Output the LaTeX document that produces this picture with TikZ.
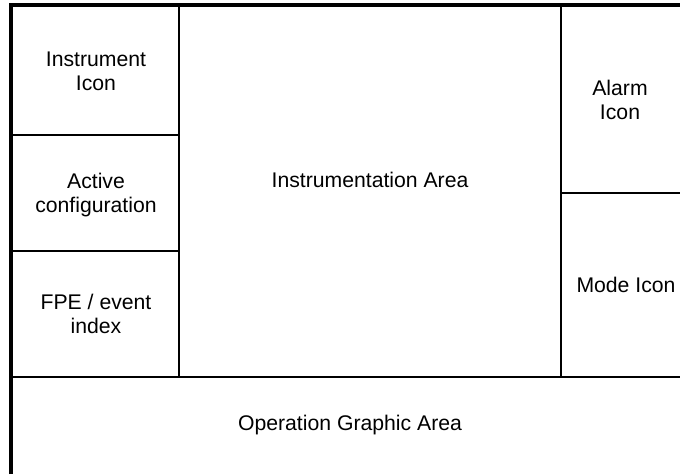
\documentclass[tikz,border=0pt]{standalone}
\usepackage{fontspec}
\setmainfont{Liberation Sans}
\begin{document}
\begin{tikzpicture}[x=1pt,y=-1pt,
  thickframe/.style={line width=3.8pt},
  thinline/.style={line width=2.4pt},
  label/.style={inner sep=0pt, align=center, font=\fontsize{21.2}{24.5}\selectfont}]
\useasboundingbox (0,0) rectangle (680,474);
% outer frame (left and top)
\draw[thickframe] (10.8,474) -- (10.8,5.2) -- (680,5.2);
% partitions
\draw[thinline] (178.8,5.2) -- (178.8,376.7);
\draw[thinline] (561.2,5.2) -- (561.2,376.7);
\draw[thinline] (10.8,135) -- (178.8,135);
\draw[thinline] (10.8,250.7) -- (178.8,250.7);
\draw[thinline] (561.2,193) -- (680,193);
\draw[thinline] (10.8,376.7) -- (680,376.7);
% labels
\node[label] (instr) at (96,71.5) {Instrument\\Icon};
\node[label] (active) at (96,195) {Active\\configuration};
\node[label] (fpe) at (96,314) {FPE / event\\index};
\node[label] (area) at (370,180) {Instrumentation Area};
\node[label] (alarm) at (620,100) {Alarm\\Icon};
\node[label] (mode) at (626,285) {Mode Icon};
\node[label] (op) at (350,425.5) {Operation Graphic Area};
\end{tikzpicture}
\end{document}
